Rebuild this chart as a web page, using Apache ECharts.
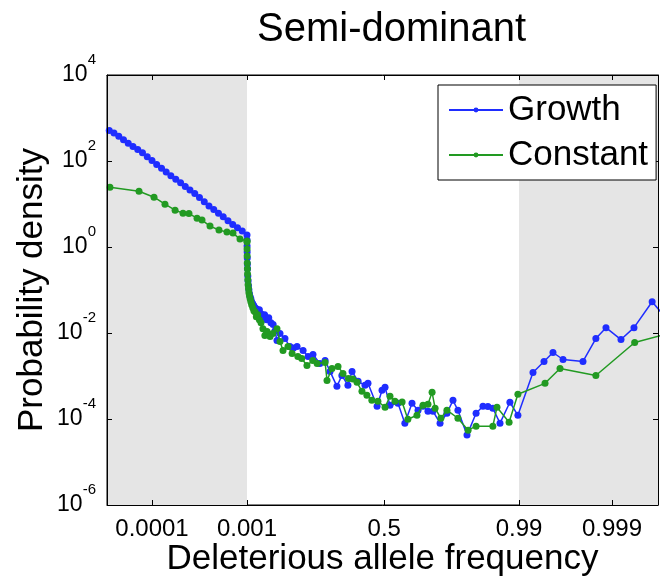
<!DOCTYPE html>
<html><head><meta charset="utf-8">
<script src="https://cdn.jsdelivr.net/npm/echarts@6/dist/echarts.min.js"></script>
<style>html,body{margin:0;padding:0;background:#fff}#c{width:660px;height:576px}</style>
</head><body><div id="c"></div>
<script>
// ---------- data ----------
const xTicks = [0.0001, 0.001, 0.5, 0.99, 0.999];
const xTickLabels = ['0.0001', '0.001', '0.5', '0.99', '0.999'];
const xRange = [3.36e-5, 0.99968];
const yRange = [1e-6, 1e4];
const shadedRanges = [[3.36e-5, 0.001], [0.99, 0.99968]];

const growthFreq = [
  3.55e-5, 3.98e-5, 4.47e-5, 5.01e-5, 5.62e-5, 6.31e-5, 7.08e-5, 7.94e-5, 8.91e-5, 1.0e-4,
  1.12e-4, 1.26e-4, 1.41e-4, 1.58e-4, 1.78e-4, 2.0e-4, 2.24e-4, 2.51e-4, 2.82e-4, 3.16e-4,
  3.55e-4, 3.98e-4, 4.47e-4, 5.01e-4, 5.62e-4, 6.31e-4, 7.08e-4, 7.94e-4, 8.91e-4, 1.0e-3,
  0.0011, 0.0013, 0.0016, 0.002, 0.0025, 0.003, 0.004, 0.005, 0.0065, 0.008,
  0.01, 0.0125, 0.015, 0.018, 0.022, 0.026, 0.03, 0.035, 0.04, 0.046,
  0.052, 0.058, 0.065, 0.072, 0.08, 0.088, 0.096,
  0.103, 0.110, 0.121, 0.139, 0.157, 0.170, 0.183, 0.205, 0.223, 0.241,
  0.266, 0.285, 0.303, 0.328, 0.346, 0.368, 0.383, 0.405, 0.430, 0.441,
  0.474, 0.492, 0.503, 0.521, 0.550, 0.575, 0.601, 0.623, 0.641, 0.659,
  0.677, 0.703, 0.728, 0.750, 0.768, 0.801, 0.834, 0.859, 0.877, 0.895,
  0.921, 0.957, 0.986,
  0.99293, 0.99462, 0.99569, 0.99664, 0.99795, 0.99851, 0.99884, 0.99920, 0.99942, 0.99963, 0.99970
];
const growthDensity = [
  511, 447, 375, 311, 260, 218, 184, 155, 126, 103,
  83.4, 68.1, 55.6, 45.4, 37.5, 31.0, 25.6, 21.1, 17.5, 14.2,
  11.3, 8.99, 7.42, 6.12, 5.03, 4.06, 3.32, 2.80, 2.35, 1.90,
  1.45, 1.05, 0.77, 0.556, 0.404, 0.31, 0.213, 0.163, 0.125, 0.101,
  0.0817, 0.0696, 0.0625, 0.0534, 0.0479, 0.0431, 0.0387, 0.0367, 0.033, 0.0348,
  0.0281, 0.024, 0.0267, 0.0204, 0.0227, 0.0174, 0.0157,
  0.0113, 0.00667, 0.00969, 0.00742, 0.00484, 0.0045, 0.00484, 0.00391, 0.00284, 0.00316,
  0.00196, 0.0023, 0.00128, 0.000574, 0.00103, 0.000606, 0.00128, 0.00075, 0.000606, 0.000675,
  0.000198, 0.000464, 0.000545, 0.000209, 0.000232, 0.00008, 0.000232, 0.00016, 0.000198, 0.000152,
  0.000152, 0.00008, 0.000136, 0.000272, 0.00016, 0.0000422, 0.000136, 0.000198, 0.000195, 0.000178,
  0.00008, 0.000245, 0.000122,
  0.00121, 0.00218, 0.00352, 0.00242, 0.00218, 0.00742, 0.0133, 0.00704, 0.0133, 0.0533, 0.0313
];

const constantFreq = [
  3.61e-5, 7.30e-5, 1.05e-4, 1.37e-4, 1.75e-4, 2.12e-4, 2.45e-4, 2.98e-4, 3.36e-4, 4.08e-4,
  5.07e-4, 6.15e-4, 7.12e-4, 8.44e-4, 1.0e-3,
  0.0011, 0.0013, 0.0016, 0.002, 0.0025, 0.003, 0.004, 0.005, 0.0065, 0.008,
  0.01, 0.0125, 0.015, 0.018, 0.022, 0.026, 0.03, 0.035, 0.04, 0.046, 0.052,
  0.059, 0.066, 0.074, 0.085, 0.095, 0.110, 0.121, 0.132, 0.150, 0.165,
  0.186, 0.200, 0.219, 0.240, 0.256, 0.285, 0.292, 0.310, 0.332, 0.350,
  0.370, 0.386, 0.401, 0.419, 0.437, 0.455, 0.477, 0.503, 0.521, 0.539,
  0.565, 0.586, 0.619, 0.641, 0.659, 0.674, 0.685, 0.706, 0.728, 0.768,
  0.805, 0.834, 0.895, 0.910, 0.954, 0.986,
  0.99475, 0.99638, 0.99851, 0.99943, 0.99970
];
const constantDensity = [
  24.5, 19.8, 14.4, 9.9, 7.18, 6.12, 6.0, 4.69, 4.22, 3.06,
  2.48, 2.22, 2.11, 1.53, 1.38,
  1.31, 0.90, 0.619, 0.426, 0.31, 0.237, 0.172, 0.132, 0.107, 0.0861,
  0.0735, 0.0625, 0.0534, 0.0455, 0.0387, 0.033, 0.0313, 0.024, 0.0267, 0.0204, 0.0174,
  0.0126, 0.00871, 0.0108, 0.00826, 0.00969, 0.0126, 0.00632, 0.00391, 0.00484, 0.00334,
  0.00284, 0.00255, 0.00176, 0.0023, 0.00196, 0.00207, 0.000791, 0.0015, 0.00167, 0.00115,
  0.00088, 0.00085, 0.000711, 0.00044, 0.000356, 0.000272, 0.000258, 0.000188, 0.000337, 0.000258,
  0.00025, 0.000099, 0.000122, 0.000209, 0.00022, 0.000417, 0.000178, 0.000104, 0.00016, 0.000104,
  0.000055, 0.000068, 0.000068, 0.000188, 0.000084, 0.000375,
  0.000675, 0.0015, 0.00103, 0.006, 0.00871
];

// ---------- piecewise frequency scale: log | linear | log(1-x) ----------
function toAxis(f) {
  if (f <= 0.001) return 95 * (Math.log10(f) + 3);
  if (f <= 0.99) return 272 * (f - 0.001) / 0.989;
  return 272 + 93 * (-2 - Math.log10(1 - f));
}
function pairs(xs, ys) { return xs.map((x, i) => [toAxis(x), ys[i]]); }

const FONT = 'Liberation Sans, Arial, sans-serif';
const tickVals = xTicks.map(toAxis);
function xLabel(v) {
  for (let i = 0; i < tickVals.length; i++) if (Math.abs(tickVals[i] - v) < 1e-6) return xTickLabels[i];
  return '';
}

const chart = echarts.init(document.getElementById('c'), null, {renderer: 'canvas'});
const xBase = {
  type: 'value', min: toAxis(xRange[0]), max: toAxis(xRange[1]),
  splitLine: {show: false}, z: 20,
  axisLine: {show: true, onZero: false, lineStyle: {color: '#000', width: 1}},
  axisTick: {show: true, inside: true, length: 5, customValues: tickVals, lineStyle: {color: '#000'}},
};
const yBase = {
  type: 'log', logBase: 10, min: yRange[0], max: yRange[1], interval: 2,
  splitLine: {show: false}, z: 20,
  axisLine: {show: true, onZero: false, lineStyle: {color: '#000', width: 1}},
  axisTick: {show: true, inside: true, length: 5, lineStyle: {color: '#000'}},
};

chart.setOption({
  animation: false,
  backgroundColor: '#fff',
  title: {
    text: 'Semi-dominant', left: 252, top: 5,
    textStyle: {fontFamily: FONT, fontSize: 40, fontWeight: 'normal', color: '#000'}
  },
  grid: {left: 107, right: 2, top: 75, bottom: 71, outerBoundsMode: 'none', containLabel: false,
    show: true, borderColor: '#000', borderWidth: 1, backgroundColor: 'transparent'},
  legend: {
    data: ['Growth', 'Constant'], orient: 'vertical', left: 438, top: 85,
    itemWidth: 54, itemHeight: 6, itemGap: 5,
    padding: [5, 8, 5, 10],
    backgroundColor: '#fff', borderColor: '#000', borderWidth: 1,
    textStyle: {fontFamily: FONT, fontSize: 35, color: '#000', lineHeight: 40},
    z: 30
  },
  xAxis: [
    Object.assign({}, xBase, {
      position: 'bottom',
      axisLabel: {show: true, customValues: tickVals, formatter: xLabel, margin: 12,
        fontFamily: FONT, fontSize: 24, color: '#000'},
      name: 'Deleterious allele frequency', nameLocation: 'middle', nameGap: 37, nameMoveOverlap: false,
      nameTextStyle: {fontFamily: FONT, fontSize: 35, color: '#000', lineHeight: 35}
    }),
    Object.assign({}, xBase, {position: 'top', axisLabel: {show: false}})
  ],
  yAxis: [
    Object.assign({}, yBase, {
      position: 'left',
      axisLabel: {
        show: true, margin: 11,
        formatter: v => '{b|10}{s|' + Math.round(Math.log10(v)) + '}',
        rich: {
          b: {fontFamily: FONT, fontSize: 23, color: '#000', lineHeight: 46, verticalAlign: 'middle'},
          s: {fontFamily: FONT, fontSize: 15, color: '#000', lineHeight: 15, verticalAlign: 'top'}
        }
      },
      name: 'Probability density', nameLocation: 'middle', nameGap: 57, nameMoveOverlap: false,
      nameTextStyle: {fontFamily: FONT, fontSize: 35, color: '#000', lineHeight: 35}
    }),
    Object.assign({}, yBase, {position: 'right', axisLabel: {show: false}})
  ],
  series: [
    {
      name: 'shade', type: 'line', data: [], z: 1, silent: true,
      markArea: {
        silent: true, itemStyle: {color: '#e5e5e5'},
        data: shadedRanges.map(r => [{xAxis: toAxis(r[0])}, {xAxis: toAxis(r[1])}])
      }
    },
    {
      name: 'Growth', type: 'line', z: 3, clip: true,
      data: pairs(growthFreq, growthDensity),
      symbol: 'circle', symbolSize: 7, showSymbol: true,
      itemStyle: {color: '#1f2dff'},
      lineStyle: {color: '#1f2dff', width: 1.5}
    },
    {
      name: 'Constant', type: 'line', z: 4, clip: true,
      data: pairs(constantFreq, constantDensity),
      symbol: 'circle', symbolSize: 7, showSymbol: true,
      itemStyle: {color: '#229a22'},
      lineStyle: {color: '#229a22', width: 1.5}
    }
  ]
});
</script>
</body></html>
